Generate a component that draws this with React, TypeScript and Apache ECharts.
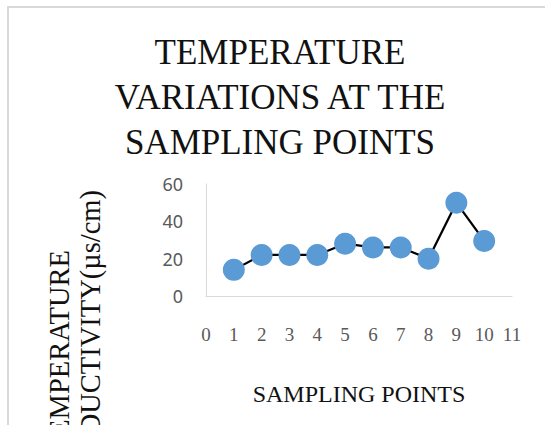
import React, { useEffect, useRef } from "react";
import * as echarts from "echarts";

const titleLines = ["TEMPERATURE", "VARIATIONS AT THE", "SAMPLING POINTS"];
const xAxisName = "SAMPLING POINTS";
const yAxisNameLines = ["TEMPERATURE", "CONDUCTIVITY(µs/cm)"];
const samplingPoints = [1, 2, 3, 4, 5, 6, 7, 8, 9, 10];
const values = [14, 22, 22, 22, 28, 26, 26, 20, 50, 29.5];
const xMin = 0;
const xMax = 11;
const yMin = 0;
const yMax = 60;
const yInterval = 20;

export default function App() {
  const ref = useRef<HTMLDivElement>(null);
  useEffect(() => {
    if (!ref.current) return;
    const chart = echarts.init(ref.current, null, { renderer: "svg" });
    const serif = "Liberation Serif";
    chart.setOption({
      animation: false,
      backgroundColor: "#ffffff",
      graphic: [
        {
          type: "rect",
          shape: { x: 8, y: 7, width: 700, height: 600 },
          style: { fill: "none", stroke: "#d9d9d9", lineWidth: 2 },
          silent: true,
        },
        ...titleLines.map((t, i) => ({
          type: "text",
          x: 280,
          y: 52 + i * 45,
          style: {
            text: t,
            font: "35px 'Liberation Serif', serif",
            fill: "#111111",
            textAlign: "center",
            textVerticalAlign: "middle",
          },
        })),
        {
          type: "text",
          x: 59,
          y: 250,
          rotation: Math.PI / 2,
          style: {
            text: yAxisNameLines[0],
            font: "28.5px 'Liberation Serif', serif",
            fill: "#111111",
            textAlign: "right",
            textVerticalAlign: "middle",
          },
        },
        {
          type: "text",
          x: 90,
          y: 190,
          rotation: Math.PI / 2,
          style: {
            text: yAxisNameLines[1],
            font: "28.5px 'Liberation Serif', serif",
            fill: "#111111",
            textAlign: "right",
            textVerticalAlign: "middle",
          },
        },
      ],
      grid: { left: 206, right: 33, top: 184, bottom: 129, containLabel: false },
      xAxis: {
        type: "value",
        min: xMin,
        max: xMax,
        interval: 1,
        name: xAxisName,
        nameLocation: "middle",
        nameGap: 86,
        nameTextStyle: { fontFamily: serif, fontSize: 24, color: "#111111" },
        axisLine: { show: true, lineStyle: { color: "#d9d9d9", width: 1 } },
        axisTick: { show: false },
        splitLine: { show: false },
        axisLabel: { fontFamily: serif, fontSize: 19, color: "#595959", margin: 29 },
      },
      yAxis: {
        type: "value",
        min: yMin,
        max: yMax,
        interval: yInterval,
        axisLine: { show: true, lineStyle: { color: "#d9d9d9", width: 1 } },
        axisTick: { show: false },
        splitLine: { show: false },
        axisLabel: { fontFamily: "Noto Sans", fontSize: 18, color: "#595959", margin: 23 },
      },
      series: [
        {
          type: "line",
          data: samplingPoints.map((p, i) => [p, values[i]]),
          symbol: "circle",
          symbolSize: 22,
          itemStyle: { color: "#5b9bd5" },
          lineStyle: { color: "#000000", width: 2.25 },
        },
      ],
    });
    return () => chart.dispose();
  }, []);
  return <div ref={ref} style={{ position: "fixed", left: 0, top: 0, width: 545, height: 425 }} />;
}
